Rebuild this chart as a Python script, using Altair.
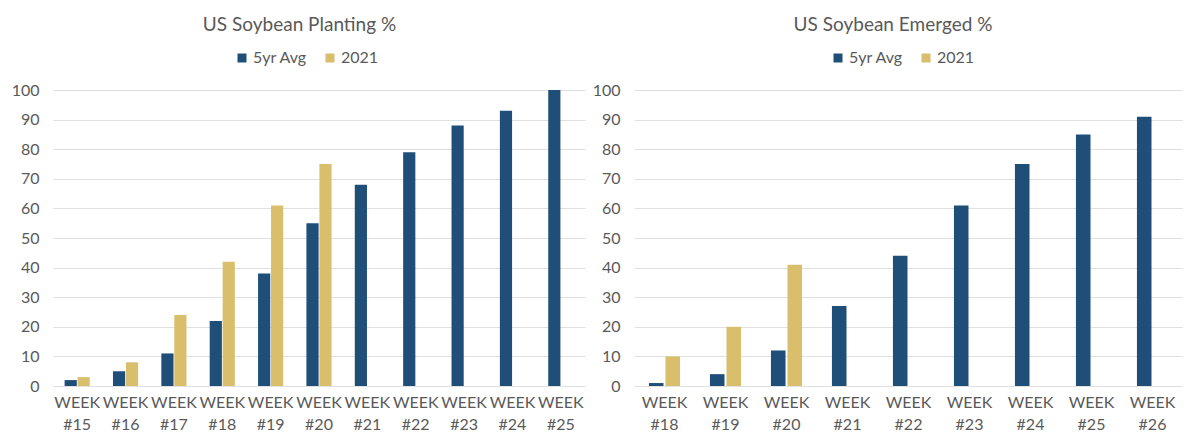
import altair as alt
import pandas as pd

# Weekly crop progress, percent of acreage
plant_weeks = ["15", "16", "17", "18", "19", "20", "21", "22", "23", "24", "25"]
plant_avg = [2, 5, 11, 22, 38, 55, 68, 79, 88, 93, 100]
plant_2021 = [3, 8, 24, 42, 61, 75]

emerge_weeks = ["18", "19", "20", "21", "22", "23", "24", "25", "26"]
emerge_avg = [1, 4, 12, 27, 44, 61, 75, 85, 91]
emerge_2021 = [10, 20, 41]

SERIES = ["5yr Avg", "2021"]
COLORS = ["#1f4e79", "#d9bf6b"]
TEXT = "#595959"
GRID = "#e0e0e0"
FONT = "Lato"


def long_table(weeks, avg, cur):
    rows = []
    for w, v in zip(weeks, avg):
        rows.append({"week": f"WEEK #{w}", "series": "5yr Avg", "value": v})
    for w, v in zip(weeks, cur):
        rows.append({"week": f"WEEK #{w}", "series": "2021", "value": v})
    return pd.DataFrame(rows)


def panel(df, weeks, title, width, pad_inner, pad_outer, off_pad, legend_x, y_extent, title_dx):
    order = [f"WEEK #{w}" for w in weeks]
    return (
        alt.Chart(df)
        .mark_bar()
        .encode(
            x=alt.X(
                "week:N",
                sort=order,
                scale=alt.Scale(domain=order, paddingInner=pad_inner, paddingOuter=pad_outer),
                axis=alt.Axis(
                    title=None,
                    labelExpr="split(datum.label, ' ')",
                    labelAngle=0,
                    labelFontSize=16,
                    labelLineHeight=22,
                    labelColor=TEXT,
                    labelFont=FONT,
                    labelPadding=8,
                    labelOverlap=False,
                    labelBound=False,
                    ticks=False,
                    domainColor=GRID,
                    domainWidth=1,
                ),
            ),
            xOffset=alt.XOffset(
                "series:N",
                sort=SERIES,
                scale=alt.Scale(domain=SERIES, paddingInner=off_pad),
            ),
            y=alt.Y(
                "value:Q",
                scale=alt.Scale(domain=[0, 100]),
                axis=alt.Axis(
                    title=None,
                    values=list(range(0, 101, 10)),
                    labelFontSize=16,
                    labelColor=TEXT,
                    labelFont=FONT,
                    labelPadding=14,
                    domain=False,
                    ticks=False,
                    gridColor=GRID,
                    gridWidth=1,
                    minExtent=y_extent,
                ),
            ),
            color=alt.Color(
                "series:N",
                sort=SERIES,
                scale=alt.Scale(domain=SERIES, range=COLORS),
                legend=alt.Legend(
                    title=None,
                    orient="none",
                    direction="horizontal",
                    legendX=legend_x,
                    legendY=-40,
                    symbolType="square",
                    symbolSize=81,
                    symbolStrokeWidth=0,
                    labelFontSize=16,
                    labelColor=TEXT,
                    labelFont=FONT,
                    labelOffset=3,
                    columnPadding=14,
                ),
            ),
        )
        .properties(
            width=width,
            height=296,
            title=alt.TitleParams(
                title,
                anchor="middle",
                frame="bounds",
                fontSize=19,
                fontWeight="normal",
                font=FONT,
                color=TEXT,
                offset=15,
                dx=title_dx,
            ),
        )
    )


planting = panel(
    long_table(plant_weeks, plant_avg, plant_2021),
    plant_weeks, "US Soybean Planting %", 532, 0.48, 0.24, 0.06, 181, 53, 7,
)
emerged = panel(
    long_table(emerge_weeks, emerge_avg, emerge_2021),
    emerge_weeks, "US Soybean Emerged %", 549, 0.49, 0.245, 0.12, 196, 49, 9,
)

chart = (
    alt.hconcat(planting, emerged, spacing=0)
    .resolve_scale(color="independent", x="independent", xOffset="independent")
    .resolve_legend(color="independent")
    .configure(padding={"left": 0, "top": 16, "right": 0, "bottom": 0}, background="white")
    .configure_view(stroke=None)
)

chart.save("out.html", embed_options={"renderer": "svg", "actions": False})
